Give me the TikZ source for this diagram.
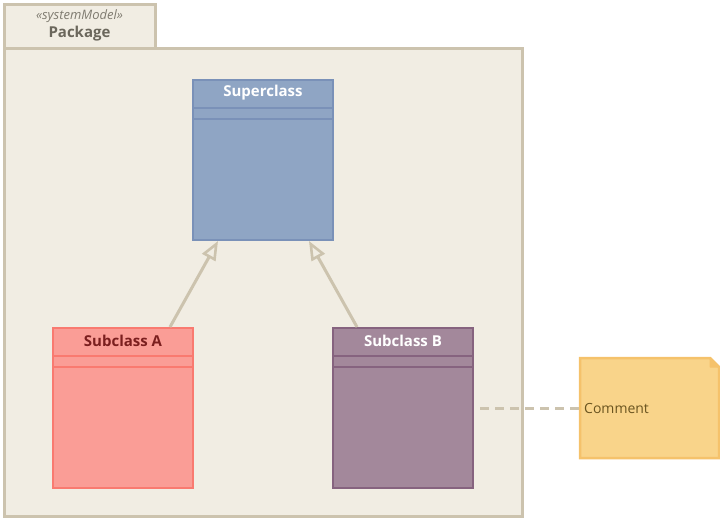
\documentclass[tikz,border=0pt]{standalone}
\usepackage{fontspec}
\setmainfont{Open Sans}
\usetikzlibrary{arrows.meta}
\definecolor{pkgfill}{HTML}{F1EDE3}
\definecolor{pkgline}{HTML}{CCC3AE}
\definecolor{pkgtext}{HTML}{6B675C}
\definecolor{stereo}{HTML}{7F7B70}
\definecolor{supfill}{HTML}{8FA5C4}
\definecolor{supline}{HTML}{7A91B8}
\definecolor{afill}{HTML}{FA9D96}
\definecolor{aline}{HTML}{F97A70}
\definecolor{atext}{HTML}{7B1F1F}
\definecolor{bfill}{HTML}{A3889B}
\definecolor{bline}{HTML}{86637F}
\definecolor{notefill}{HTML}{F9D48A}
\definecolor{noteline}{HTML}{F5C26B}
\definecolor{notetext}{HTML}{6B5520}
\begin{document}
\begin{tikzpicture}[x=1pt,y=-1pt,
  title/.style={font=\bfseries\fontsize{15}{17}\selectfont,anchor=center},
  gen/.style={draw=pkgline,line width=3pt,-{Triangle[open,length=19pt,width=15pt,line width=2.6pt]}},
  ]
\useasboundingbox (0,0) rectangle (720,520);
% package
\draw[fill=pkgfill,draw=pkgline,line width=3pt] (4,4) rectangle (155,48);
\draw[fill=pkgfill,draw=pkgline,line width=3pt] (4,48) rectangle (522,516);
\node[font=\itshape\fontsize{13}{15}\selectfont,text=stereo] (stereo) at (79.5,16) {«systemModel»};
\node[font=\bfseries\fontsize{15}{17}\selectfont,text=pkgtext] (pkg) at (79.5,34) {Package};
% superclass
\path[fill=supfill] (193,80) rectangle (333,240);
\node[inner sep=0,minimum width=140pt,minimum height=160pt] (sup) at (263,160) {};
\draw[supline,line width=2.5pt] (193,108) -- (333,108) (193,119) -- (333,119);
\draw[supline,line width=2.5pt] (193,80) rectangle (333,240);
\node[title,text=white] at (263,93) {Superclass};
% subclass A
\path[fill=afill] (53,328) rectangle (193,488);
\node[inner sep=0,minimum width=140pt,minimum height=160pt] (a) at (123,408) {};
\draw[aline,line width=2.5pt] (53,356) -- (193,356) (53,367) -- (193,367);
\draw[aline,line width=2.5pt] (53,328) rectangle (193,488);
\node[title,text=atext] at (123,341) {Subclass A};
% subclass B
\path[fill=bfill] (333,328) rectangle (473,488);
\node[inner sep=0,minimum width=140pt,minimum height=160pt] (b) at (403,408) {};
\draw[bline,line width=2.5pt] (333,356) -- (473,356) (333,367) -- (473,367);
\draw[bline,line width=2.5pt] (333,328) rectangle (473,488);
\node[title,text=white] at (403,341) {Subclass B};
% generalisations
\coordinate (a1) at (170,327);
\coordinate (a2) at (218,241);
\coordinate (b1) at (357,327);
\coordinate (b2) at (309,241);
\draw[gen] (a1) -- (a2);
\draw[gen] (b1) -- (b2);
% note
\draw[fill=notefill,draw=noteline,line width=2.5pt] (580,358) -- (710,358) -- (719,367) -- (719,458) -- (580,458) -- cycle;
\draw[fill=noteline,draw=noteline,line width=1pt,line join=round] (710,358) -- (719,367) -- (710,367) -- cycle;
\node[inner sep=0,minimum width=139pt,minimum height=100pt] (note) at (649.5,408) {};
\node[anchor=west,inner sep=0,text=notetext,font=\fontsize{14}{16}\selectfont] (ntext) at (584,408) {Comment};
\coordinate (c1) at (480,408);
\draw[pkgline,line width=3pt,dash pattern=on 9pt off 6pt] (c1) -- (note.west);
\end{tikzpicture}
\end{document}
